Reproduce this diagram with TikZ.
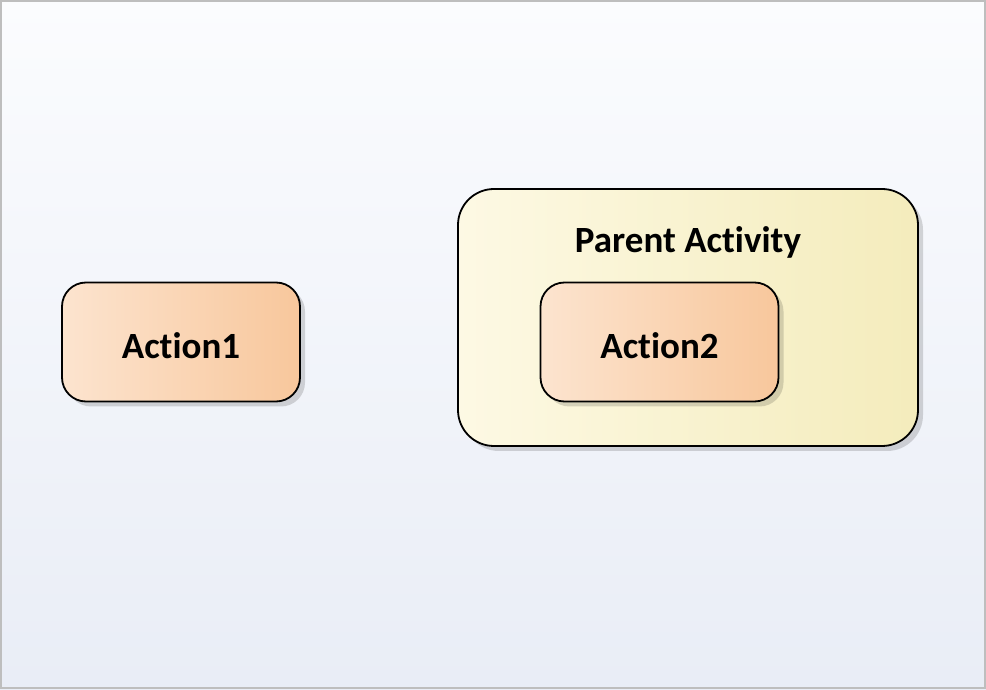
\documentclass[tikz,border=0pt]{standalone}
\usepackage{fontspec}
\setmainfont{Carlito}[Ligatures=NoCommon]
\usepackage{xcolor}
\usepackage{tikz}
\usetikzlibrary{positioning,shadows,backgrounds}
\definecolor{bgtop}{HTML}{FBFCFE}
\definecolor{bgbot}{HTML}{E9EDF6}
\definecolor{frameg}{HTML}{BEBEBE}
\definecolor{actl}{HTML}{FCE4CF}
\definecolor{actr}{HTML}{F8C79C}
\definecolor{parl}{HTML}{FDF9E4}
\definecolor{parr}{HTML}{F4ECBC}

\begin{document}
\begin{tikzpicture}[
    action/.style={draw=black, line width=1.8pt, rounded corners=24pt, left color=actl, right color=actr,
        minimum width=238pt, minimum height=119pt, font=\fontsize{37}{42}\selectfont\bfseries,
        text height=33pt, text depth=0pt,
        drop shadow={shadow xshift=5pt, shadow yshift=-5pt, fill=black, opacity=0.15}},
    activity/.style={draw=black, line width=1.8pt, rounded corners=36pt, left color=parl, right color=parr,
        minimum width=460pt, minimum height=257pt,
        drop shadow={shadow xshift=5pt, shadow yshift=-5pt, fill=black, opacity=0.15}},
    title/.style={font=\fontsize{37}{42}\selectfont\bfseries}
]
% page
\path[use as bounding box] (0pt,0pt) rectangle (986pt,689pt);
\shade[top color=bgtop, bottom color=bgbot] (0pt,0pt) rectangle (986pt,689pt);
\draw[frameg, line width=2pt] (1pt,1pt) rectangle (985pt,688pt);

\node[action] (act1) at (181pt,347pt) {Action1};
\node[activity] (parent) at (688pt,371.5pt) {};
\node[title] (ptitle) at (688pt,447pt) {Parent Activity};
\node[action] (act2) at (659.5pt,347pt) {Action2};
\end{tikzpicture}
\end{document}
